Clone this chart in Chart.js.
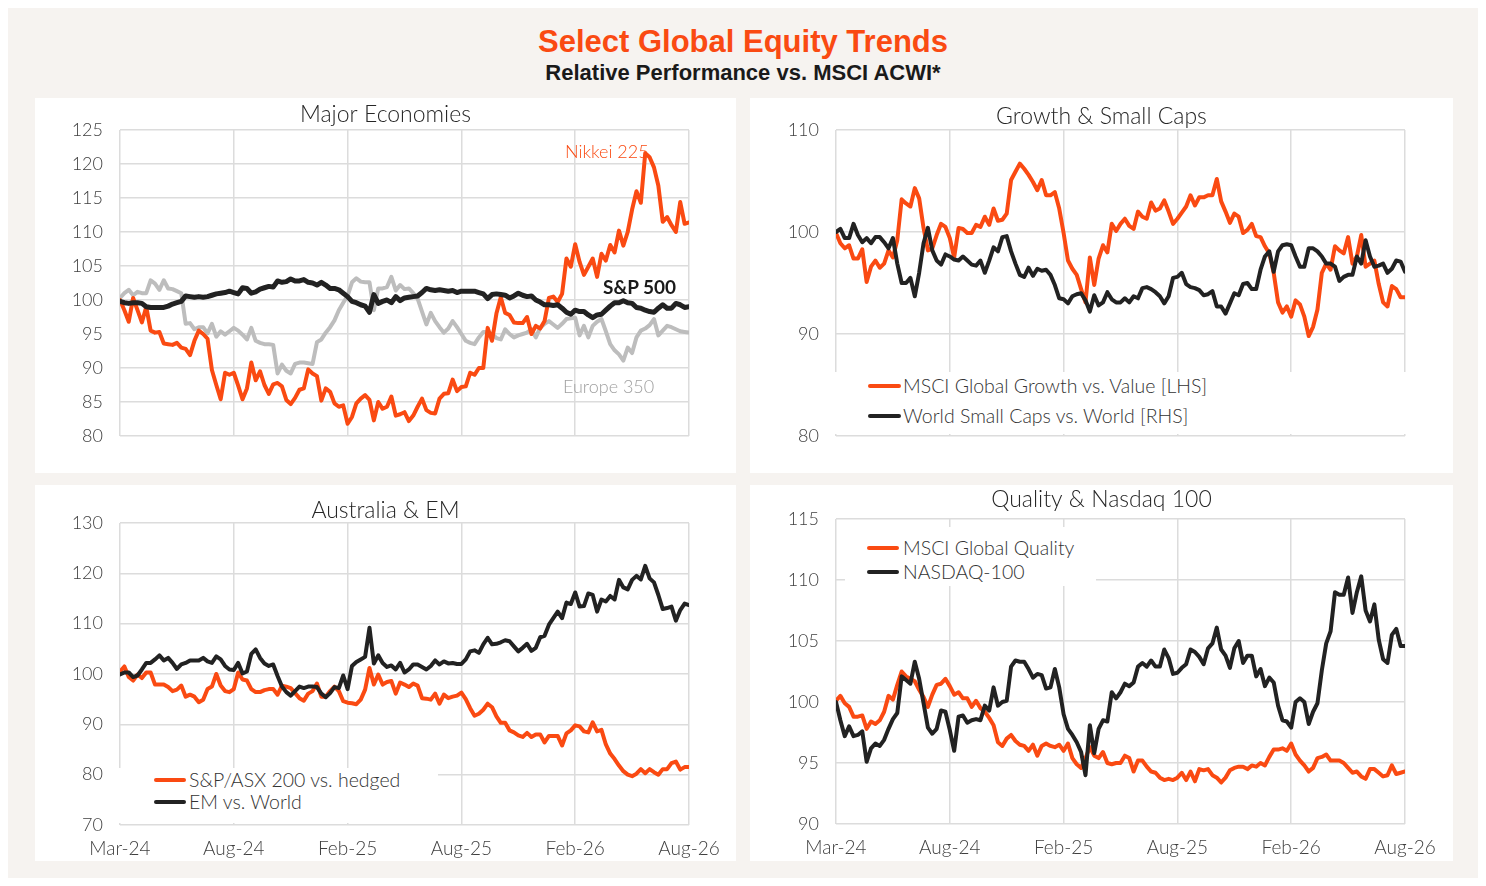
<!DOCTYPE html>
<html><head><meta charset="utf-8">
<script src="https://cdn.jsdelivr.net/npm/chart.js@4.4.1/dist/chart.umd.min.js"></script>
<style>
html,body{margin:0;padding:0;background:#fff;width:1486px;height:886px;overflow:hidden;font-family:Lato,'Open Sans',sans-serif}
#bg{position:absolute;left:8px;top:8px;width:1470px;height:870px;background:#f6f3f0}
.t{position:absolute;left:0;width:1486px;text-align:center;font-family:'Liberation Sans',Arial,sans-serif;font-weight:bold;white-space:nowrap}
.panel{position:absolute;background:#fff}
.panel canvas{position:absolute;left:0;top:0}
.lab{position:absolute;white-space:nowrap;font-size:18px;line-height:22px;font-weight:300}
.leg{position:absolute;background:#fff}
.li{position:absolute;white-space:nowrap;font-size:19.5px;line-height:22px;color:#333;font-weight:300}
.sw{position:absolute;height:4px;border-radius:2px}
</style></head>
<body>
<div id="bg"></div>
<div class="t" style="top:24px;font-size:31px;line-height:36px;color:#fa4a12">Select Global Equity Trends</div>
<div class="t" style="top:60px;font-size:22px;line-height:26px;color:#1a1a1a">Relative Performance vs. MSCI ACWI*</div>

<div class="panel" style="left:35px;top:98px;width:701px;height:375px"><canvas id="c1" width="701" height="375"></canvas></div>
<div class="panel" style="left:750px;top:98px;width:703px;height:375px"><canvas id="c2" width="703" height="375"></canvas></div>
<div class="panel" style="left:35px;top:485px;width:701px;height:376px"><canvas id="c3" width="701" height="376"></canvas></div>
<div class="panel" style="left:750px;top:485px;width:703px;height:376px"><canvas id="c4" width="703" height="376"></canvas></div>

<div class="lab" style="left:565px;top:140px;color:#fa4a12">Nikkei 225</div>
<div class="lab" style="left:603px;top:276px;color:#1a1a1a;font-weight:bold;font-size:19px">S&amp;P 500</div>
<div class="lab" style="left:563px;top:375px;color:#a0a0a0">Europe 350</div>

<div class="leg" style="left:834px;top:372px;width:574px;height:62px"></div>
<div class="sw" style="left:868px;top:384px;width:33px;background:#fa4a12"></div>
<div class="li" style="left:903px;top:375px">MSCI Global Growth vs. Value [LHS]</div>
<div class="sw" style="left:868px;top:414px;width:33px;background:#222"></div>
<div class="li" style="left:903px;top:405px">World Small Caps vs. World [RHS]</div>

<div class="leg" style="left:118px;top:768px;width:320px;height:55px"></div>
<div class="sw" style="left:154px;top:778px;width:32px;background:#fa4a12"></div>
<div class="li" style="left:189px;top:769px">S&amp;P/ASX 200 vs. hedged</div>
<div class="sw" style="left:154px;top:800px;width:32px;background:#222"></div>
<div class="li" style="left:189px;top:791px">EM vs. World</div>

<div class="leg" style="left:845px;top:527px;width:251px;height:59px"></div>
<div class="sw" style="left:867px;top:546px;width:32px;background:#fa4a12"></div>
<div class="li" style="left:903px;top:537px">MSCI Global Quality</div>
<div class="sw" style="left:867px;top:570px;width:32px;background:#222"></div>
<div class="li" style="left:903px;top:561px">NASDAQ-100</div>

<script>
// ---- Data (weekly, Mar-24 .. Aug-26) ----
const xTickLabels = ['Mar-24','Aug-24','Feb-25','Aug-25','Feb-26','Aug-26'];

const nikkei = [
100.0,98.5,96.8,100.3,98.5,96.7,99.0,95.5,95.2,95.3,
93.6,93.5,93.4,93.7,93.0,92.8,91.9,94.0,95.5,95.0,
94.3,89.7,87.5,85.4,89.3,89.0,89.3,87.4,85.4,87.0,
90.8,88.2,89.5,87.5,86.2,87.6,87.8,87.3,85.3,84.7,
85.6,86.8,87.0,89.8,89.2,88.8,85.2,87.0,86.5,84.8,
84.3,84.5,81.8,82.8,84.8,85.5,86.0,85.3,82.3,85.0,
84.0,84.3,85.8,83.0,83.2,83.5,82.2,83.0,84.3,85.5,
83.8,83.4,83.3,85.5,86.2,86.3,88.3,86.6,87.2,87.3,
89.3,89.0,90.0,90.0,95.9,94.0,98.0,100.4,98.1,97.8,
96.7,96.6,96.6,97.5,95.0,96.2,95.8,96.9,100.3,100.5,
99.7,100.9,106.1,104.9,108.2,105.6,103.7,104.9,106.1,103.4,
106.8,105.8,108.1,107.0,110.2,108.0,110.0,113.3,116.0,114.3,
121.6,121.0,119.5,116.8,111.5,112.2,111.0,110.0,114.4,111.2,
111.4];

const sp500 = [
99.8,99.6,99.5,99.6,99.6,99.5,99.0,98.9,98.9,98.9,
98.9,99.1,99.4,99.6,99.8,100.6,100.5,100.4,100.5,100.4,
100.5,100.7,100.9,101.0,101.1,101.3,101.1,100.9,101.8,101.7,
101.0,101.2,101.6,101.8,102.0,101.9,102.8,102.6,102.7,103.1,
102.8,102.8,103.0,102.6,102.5,102.2,102.6,102.2,101.7,101.7,
101.5,101.0,100.5,99.8,99.6,99.3,99.1,98.2,100.8,99.5,
99.8,100.0,99.6,100.5,99.9,100.3,100.4,100.5,100.6,101.1,
101.7,101.5,101.4,101.5,101.4,101.3,101.4,101.1,101.3,101.3,
101.3,101.3,101.1,100.9,100.2,100.8,100.9,100.8,100.7,100.3,
100.6,101.0,100.7,100.5,100.6,100.0,99.7,99.3,99.3,99.2,
99.3,98.8,98.2,97.9,98.5,98.3,98.3,97.8,97.4,97.8,
97.9,98.5,99.1,99.6,99.6,99.9,99.6,99.5,98.9,98.8,
98.5,98.3,98.2,98.8,99.3,98.8,98.8,99.5,99.3,98.9,
99.0];

const europe350 = [
100.3,101.0,101.5,100.7,101.2,101.0,101.0,102.9,102.4,101.5,
102.9,101.7,101.6,101.3,101.0,96.5,96.6,95.7,96.0,96.0,
95.1,96.5,94.6,95.4,94.9,95.4,95.9,95.5,94.9,94.2,
95.9,94.0,93.7,93.5,93.5,93.4,89.2,90.5,89.6,89.2,
90.6,90.8,90.8,90.7,90.6,93.8,94.2,95.2,96.0,97.0,
98.5,99.6,100.6,102.6,103.2,102.7,102.6,102.6,98.5,101.7,
101.7,101.9,103.4,101.4,102.2,101.6,101.7,101.0,100.2,98.3,
96.4,98.1,96.9,96.0,95.2,95.8,96.9,96.0,95.0,94.0,
93.7,93.5,94.5,95.3,95.3,95.0,94.4,94.2,95.7,95.0,
94.5,94.8,95.0,95.2,95.7,94.5,95.9,96.5,96.9,96.4,
95.9,96.5,97.2,97.3,97.4,94.8,96.2,94.5,96.2,96.8,
97.2,95.4,93.5,92.6,92.0,91.1,93.0,92.2,94.5,95.5,
95.8,96.3,97.2,94.8,95.5,96.2,96.0,95.7,95.4,95.3,
95.2];

const growthVsValue = [
99.9,98.9,98.4,98.7,97.4,97.4,98.3,95.1,96.6,97.2,
96.5,96.9,98.2,97.5,99.2,103.2,102.8,102.5,104.3,103.3,
100.4,98.2,98.4,99.7,100.8,100.5,99.4,97.5,100.4,100.3,
99.9,99.9,100.7,100.5,101.5,100.7,102.3,101.1,101.2,101.8,
105.1,105.9,106.7,106.2,105.6,104.9,104.1,105.1,103.6,103.6,
103.9,102.3,99.9,97.2,96.4,95.8,94.4,93.1,97.5,94.8,
97.4,98.7,98.0,100.8,100.1,100.8,101.3,100.6,100.3,102.0,
101.5,101.3,102.9,102.1,102.3,103.1,102.0,100.8,101.3,101.9,
102.5,103.6,102.6,103.4,103.4,103.6,103.6,105.2,103.0,102.0,
100.9,101.8,101.5,99.9,100.2,100.8,99.6,99.5,98.6,97.9,
96.0,93.1,92.1,92.7,91.7,93.3,92.9,91.7,89.8,90.7,
92.4,96.0,96.9,96.3,98.6,98.2,97.9,99.5,96.9,97.6,
99.7,96.6,96.9,97.2,94.9,93.1,92.7,94.7,94.4,93.6,
93.6];

const smallCaps = [
100.0,100.3,99.4,99.4,100.8,99.7,99.0,99.4,98.9,99.5,
99.5,99.0,98.4,99.4,96.9,95.0,95.0,95.5,93.7,96.0,
98.9,100.4,98.2,97.2,96.8,97.8,97.6,97.3,97.2,97.6,
97.2,96.8,96.7,97.2,96.0,97.2,98.5,98.1,99.5,99.6,
98.1,96.9,95.8,95.6,96.5,95.7,96.4,96.2,96.3,95.8,
94.8,93.5,93.4,93.0,93.7,93.9,94.0,93.3,92.2,93.8,
92.8,93.1,94.1,93.4,93.1,93.1,93.5,93.1,93.7,93.5,
94.5,94.6,94.4,94.1,93.7,93.0,93.7,95.5,95.6,96.0,
94.9,94.6,94.5,94.3,93.8,93.9,94.2,92.7,92.7,92.0,
93.0,94.0,93.8,94.9,95.0,94.4,94.4,96.3,97.6,98.1,
96.1,98.1,98.7,98.8,98.7,97.6,96.6,96.6,98.4,98.4,
98.1,97.6,96.9,96.9,96.6,95.2,95.6,95.8,95.8,97.6,
96.9,99.2,97.6,96.6,96.7,96.9,96.0,96.4,97.2,97.1,
96.1];

const asx200 = [
100.5,101.5,99.4,98.7,99.9,99.2,100.3,100.3,97.9,97.9,
97.9,97.4,96.6,96.9,97.7,95.5,95.9,95.5,94.4,94.9,
97.0,97.5,100.0,97.7,96.6,96.4,97.0,100.3,98.9,98.7,
97.0,96.4,96.4,96.8,97.0,97.0,95.9,97.7,97.5,97.2,
96.2,95.2,94.7,96.1,96.6,98.1,95.5,95.5,96.6,97.5,
96.6,94.6,94.3,94.2,94.0,94.9,96.9,101.2,97.9,99.9,
97.9,98.4,98.6,96.1,98.3,97.9,97.4,98.1,97.7,95.2,
95.1,94.9,96.1,94.1,95.9,95.2,95.5,95.7,96.3,95.0,
93.2,91.7,92.1,92.9,94.1,93.4,91.6,90.3,90.3,88.8,
88.4,87.8,87.5,88.3,87.5,88.0,88.0,86.4,87.7,87.7,
87.7,85.8,88.2,88.8,89.8,89.6,88.6,88.4,90.4,88.6,
88.9,86.0,84.2,83.1,81.8,80.7,80.0,79.7,80.2,81.1,
80.3,81.1,80.5,80.0,81.1,81.1,82.3,82.6,81.0,81.5,
81.5];

const emVsWorld = [
99.9,100.3,100.3,99.4,99.7,100.9,102.2,102.2,102.9,103.7,
102.7,103.2,102.2,101.0,101.9,102.2,102.7,102.7,102.7,103.2,
102.5,102.2,103.5,102.9,101.6,100.9,100.8,102.2,100.1,100.5,
104.0,104.9,103.2,102.1,101.6,101.9,99.6,97.5,96.4,95.7,
96.6,97.5,97.2,97.5,97.5,97.4,96.1,95.4,96.2,97.4,
97.2,99.7,97.0,101.6,102.4,102.9,103.4,109.2,102.1,103.7,
102.2,101.4,101.7,100.9,102.2,100.3,100.9,101.9,101.9,101.4,
100.9,101.6,102.7,101.9,102.5,102.1,102.2,102.0,102.0,102.9,
104.5,104.7,104.2,105.9,107.2,105.9,106.0,106.3,106.7,106.5,
105.5,104.5,105.2,106.0,104.6,105.2,107.3,107.6,109.8,111.1,
112.4,111.1,114.2,113.9,116.2,113.4,113.5,116.0,115.7,112.4,
114.8,114.4,115.5,114.8,118.7,117.2,116.8,118.7,119.5,118.8,
121.5,119.0,118.2,115.7,112.9,113.1,113.4,110.6,112.7,114.0,
113.7];

const quality = [
100.1,100.5,99.9,99.6,98.8,98.8,98.9,97.8,98.4,98.2,
98.5,99.2,100.5,100.2,101.4,102.5,102.1,101.9,101.7,101.0,
100.4,99.6,100.6,101.4,101.5,101.9,101.3,100.6,100.8,100.3,
100.3,99.6,100.1,99.5,99.2,98.7,98.1,96.7,96.4,97.0,
97.3,96.8,96.5,96.4,96.0,96.5,95.6,96.4,96.6,96.4,
96.3,96.5,96.0,96.6,95.4,94.9,94.6,95.4,96.3,95.6,
95.4,95.9,95.0,94.9,95.0,95.0,95.6,95.4,94.3,95.2,
95.2,94.7,94.3,94.2,93.8,93.6,93.7,93.6,93.8,94.2,
93.6,94.3,93.5,94.5,94.4,94.5,94.0,93.8,93.4,93.8,
94.4,94.6,94.7,94.7,94.5,94.8,94.7,95.0,94.8,95.5,
96.1,96.1,96.2,96.0,96.6,95.7,95.2,94.8,94.3,94.6,
95.4,95.5,95.7,95.2,95.2,95.2,95.0,94.6,94.2,94.3,
93.9,93.7,94.5,94.5,94.2,93.9,94.0,94.8,94.1,94.2,
94.3];

const nasdaq100 = [
100.0,98.5,97.2,98.0,97.2,97.3,97.6,95.1,96.2,96.6,
96.4,96.9,97.8,98.6,99.1,102.1,101.8,101.5,103.3,101.9,
99.9,97.9,97.4,97.8,99.3,99.2,97.7,96.0,98.8,98.9,
98.3,98.5,98.6,98.5,99.7,99.3,101.2,99.7,100.0,100.1,
102.9,103.4,103.3,103.3,102.7,102.0,102.3,102.2,101.1,101.2,
102.7,101.2,99.0,97.8,97.3,96.7,95.9,94.0,98.1,95.8,
97.8,98.5,98.4,100.8,100.3,100.8,101.5,101.3,101.6,102.9,
103.2,102.9,103.4,102.9,102.9,104.3,103.6,102.3,102.4,102.8,
103.1,104.3,104.1,103.7,103.1,104.4,104.8,106.1,104.3,103.8,
102.8,104.4,105.0,103.2,103.8,103.8,102.1,102.7,101.3,102.0,
101.6,99.7,98.5,98.4,97.9,100.0,100.3,100.0,98.2,99.2,
99.9,102.6,104.8,105.8,109.0,108.8,108.8,110.2,107.3,109.0,
110.3,107.5,106.6,108.0,105.1,103.5,103.2,105.5,106.0,104.6,
104.6];

const weekIndex = nikkei.map((_, i) => i);

const ORANGE = '#fa4a12', BLACK = '#222222', GRAY = '#bdbdbd';
const GRID = '#dcdcdc';
Chart.defaults.font.family = "Lato, 'Open Sans', sans-serif";

function panel(id, cfg) {
  return new Chart(document.getElementById(id), {
    type: 'line',
    data: {
      labels: weekIndex,
      datasets: cfg.series.map(s => ({
        label: s.label, data: s.data, borderColor: s.color, backgroundColor: s.color,
        borderWidth: s.width, pointRadius: 0, tension: 0,
        borderJoinStyle: 'round', borderCapStyle: 'round', fill: false
      }))
    },
    options: {
      responsive: false, animation: false, events: [],
      layout: { padding: 0 },
      plugins: {
        legend: { display: false }, tooltip: { enabled: false },
        title: { display: true, text: cfg.title, color: '#262626',
          font: { size: 23, weight: '300', lineHeight: 1 },
          padding: { top: cfg.tTop, bottom: cfg.tBottom } }
      },
      scales: {
        x: {
          type: 'linear', min: 0, max: 130,
          ticks: { stepSize: 26, display: cfg.showX, autoSkip: false, maxRotation: 0,
            callback: v => xTickLabels[v / 26] ?? '',
            color: '#404040', font: { size: 19, weight: '300' }, padding: 12 },
          grid: { color: GRID, lineWidth: 1.5, drawTicks: false },
          border: { display: false },
          afterFit: s => { s.height = cfg.xH; }
        },
        y: {
          min: cfg.min, max: cfg.max,
          ticks: { stepSize: cfg.step, color: '#404040', font: { size: 18, weight: '300' }, padding: 17 },
          grid: { color: GRID, lineWidth: 1.5, drawTicks: false },
          border: { display: false },
          afterFit: s => { s.width = cfg.yW; }
        },
        gutter: {
          type: 'linear', position: 'right', display: true,
          ticks: { display: false }, grid: { display: false }, border: { display: false },
          afterFit: s => { s.width = cfg.padRight; }
        }
      }
    }
  });
}

panel('c1', { title: 'Major Economies', tTop: 5.5, tBottom: 3.5, padRight: 47, xH: 37, yW: 85,
  showX: false, min: 80, max: 125, step: 5,
  series: [
    { label: 'S&P 500', data: sp500, color: BLACK, width: 5 },
    { label: 'Nikkei 225', data: nikkei, color: ORANGE, width: 4 },
    { label: 'Europe 350', data: europe350, color: GRAY, width: 4 }
  ] });

panel('c2', { title: 'Growth & Small Caps', tTop: 7.5, tBottom: 1.5, padRight: 48, xH: 37, yW: 86,
  showX: false, min: 80, max: 110, step: 10,
  series: [
    { label: 'World Small Caps vs. World [RHS]', data: smallCaps, color: BLACK, width: 4 },
    { label: 'MSCI Global Growth vs. Value [LHS]', data: growthVsValue, color: ORANGE, width: 4 }
  ] });

panel('c3', { title: 'Australia & EM', tTop: 14.5, tBottom: 0.5, padRight: 47, xH: 36, yW: 85,
  showX: true, min: 70, max: 130, step: 10,
  series: [
    { label: 'EM vs. World', data: emVsWorld, color: BLACK, width: 4 },
    { label: 'S&P/ASX 200 vs. hedged', data: asx200, color: ORANGE, width: 4 }
  ] });

panel('c4', { title: 'Quality & Nasdaq 100', tTop: 3.5, tBottom: 7.5, padRight: 48, xH: 37, yW: 86,
  showX: true, min: 90, max: 115, step: 5,
  series: [
    { label: 'NASDAQ-100', data: nasdaq100, color: BLACK, width: 4 },
    { label: 'MSCI Global Quality', data: quality, color: ORANGE, width: 4 }
  ] });
</script>
</body></html>
